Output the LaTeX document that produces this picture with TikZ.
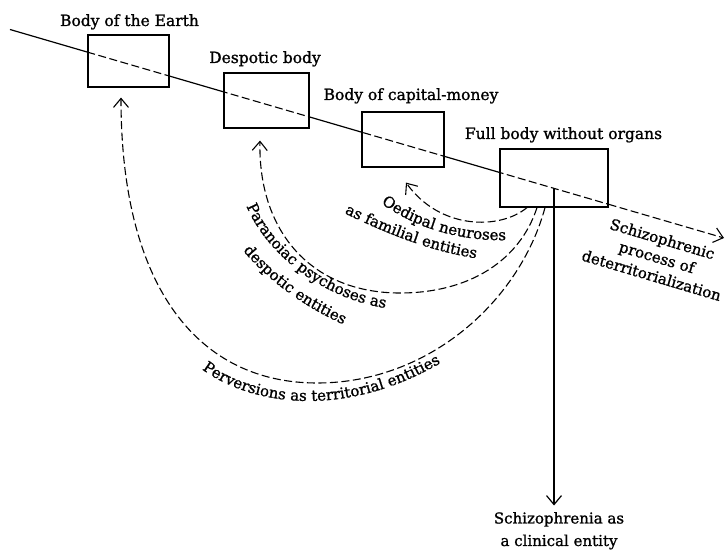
\documentclass[tikz,border=0pt]{standalone}
\usepackage{fontspec}
\setmainfont{DejaVu Serif}[BoldFont=DejaVu Serif, BoldFeatures={FakeBold=1.2}]
\usetikzlibrary{arrows.meta,backgrounds,decorations.text}

\newcommand{\lbl}{\fontsize{15bp}{19bp}\bfseries}
\newcommand{\ttl}{\fontsize{15.5bp}{19bp}\bfseries}

\tikzset{
  bodybox/.style={draw, line width=1.2pt, inner sep=0pt},
  bodytitle/.style={anchor=base, font=\ttl},
  flowline/.style={line width=1.1pt, dash pattern=on 8bp off 3.5bp},
  curvelabel/.style={decorate, decoration={text along path, text align=center, text={|\lbl|#1}}},
}

\begin{document}
\begin{tikzpicture}[x=1bp, y=-1bp, >={Straight Barb[length=9bp,width=15bp]}, line width=1.2pt]
  \useasboundingbox (0,0) rectangle (727,550);

  % the four bodies
  \node[bodybox, minimum width=81bp, minimum height=52bp] (earth) at (128.5,61) {};
  \node[bodybox, minimum width=85bp, minimum height=55bp] (despot) at (266.5,100.5) {};
  \node[bodybox, minimum width=82bp, minimum height=55bp] (capital) at (403,139.5) {};
  \node[bodybox, minimum width=108bp, minimum height=58bp] (full) at (554,178) {};

  \node[bodytitle] (earthtitle) at (129.5,26) {Body of the Earth};
  \node[bodytitle] (despottitle) at (265,63) {Despotic body};
  \node[bodytitle] (capitaltitle) at (411,100) {Body of capital-money};
  \node[bodytitle] (fulltitle) at (563.5,139) {Full body without organs};

  % the line of history
  \coordinate (lstart) at (10,29.5);
  \coordinate (lend) at (724,238);
  \coordinate (lexit) at (intersection of lstart--lend and full.north east--full.south east);
  \coordinate (vtop) at (intersection of lstart--lend and full.north--full.south);

  \begin{scope}[on background layer]
    \draw[line width=1.2pt] (lstart) -- (lexit);
    \foreach \b in {earth,despot,capital,full}{
      \begin{scope}
        \clip (\b.south west) rectangle (\b.north east);
        \fill[white] (\b.south west) rectangle (\b.north east);
        \draw[flowline] (lstart) -- (lend);
      \end{scope}
    }
  \end{scope}
  \draw[flowline, ->] (lexit) -- (lend);

  \node[font=\lbl, align=center, rotate=-16.5] (process) at (657,257) {Schizophrenic\\process of\\deterritorialization};

  % clinical entity
  \node[font=\lbl, align=center, anchor=north, inner sep=3bp] (clin) at (559,508.5) {Schizophrenia as\\[3.5bp]a clinical entity};
  \draw[->, shorten >=3bp] (vtop) -- (vtop |- clin.north);

  % the three returns
  \draw[flowline, ->] ([xshift=-27bp]full.south) .. controls (500,230) and (440,230) .. ([shift={(3,15)}]capital.south);
  \draw[flowline, ->] ([xshift=-17bp]full.south) .. controls (520,260) and (470,293) .. (400,293)
    .. controls (310,293) and (258,230) .. ([shift={(-6.5,12)}]despot.south);
  \draw[flowline, ->] ([xshift=-9bp]full.south) .. controls (520,300) and (430,383) .. (317,383)
    .. controls (200,383) and (121,290) .. ([shift={(-7.5,10)}]earth.south);

  \path[curvelabel={Oedipal neuroses}] (378,201) .. controls (410,225) and (455,242) .. (510,240);
  \path[curvelabel={as familial entities}] (340,211) .. controls (383,232) and (430,252) .. (481,259);
  \path[curvelabel={Paranoiac psychoses as}] (244,200) .. controls (262,250) and (320,300) .. (392,309);
  \path[curvelabel={despotic entities}] (239,246) .. controls (269,282) and (304,307) .. (349,327);
  \path[curvelabel={Perversions as territorial entities}] (199,367) .. controls (245,403) and (340,423) .. (444,361);
\end{tikzpicture}
\end{document}
